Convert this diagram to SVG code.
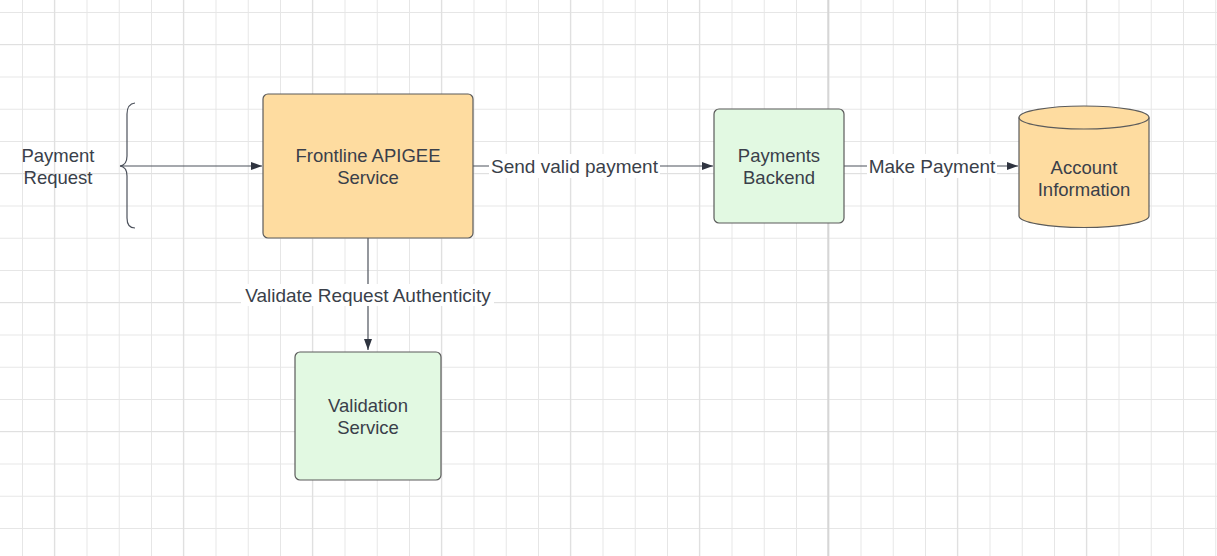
<svg xmlns="http://www.w3.org/2000/svg" width="1217" height="556" viewBox="0 0 1217 556">
<defs>
<style>
.grid{stroke:#e6e6e6;stroke-width:1}
.gridM{stroke:#e0e0e0;stroke-width:1.2}
.node{stroke:#5b5b5b;stroke-width:1.2}
.orange{fill:#fedca0}
.green{fill:#e2f9e2}
.t{font-family:"Liberation Sans",Arial,sans-serif;font-size:18.5px;fill:#3a3f4a;text-anchor:middle}
.lbl{font-family:"Liberation Sans",Arial,sans-serif;font-size:19px;fill:#3a3f4a;text-anchor:middle}
.edge{stroke:#4d525c;stroke-width:1.2;fill:none}
</style>
<marker id="arr" markerWidth="12" markerHeight="10" refX="11" refY="5" orient="auto" markerUnits="userSpaceOnUse">
<path d="M0,1 L11,5 L0,9 Z" fill="#2f3440"/>
</marker>
<pattern id="gp" x="22" y="12" width="32.25" height="32.25" patternUnits="userSpaceOnUse">
<path d="M0.5,0 V32.25 M0,0.5 H32.25" class="grid"/>
</pattern>
</defs>
<rect width="1217" height="556" fill="#ffffff"/>
<rect width="1217" height="556" fill="url(#gp)"/>
<g id="major-grid" class="gridM">
<line x1="54.5" y1="0" x2="54.5" y2="556"/>
<line x1="183.5" y1="0" x2="183.5" y2="556"/>
<line x1="312.5" y1="0" x2="312.5" y2="556"/>
<line x1="441.5" y1="0" x2="441.5" y2="556"/>
<line x1="570.5" y1="0" x2="570.5" y2="556"/>
<line x1="699.5" y1="0" x2="699.5" y2="556"/>
<line x1="957.5" y1="0" x2="957.5" y2="556"/>
<line x1="1086.5" y1="0" x2="1086.5" y2="556"/>
<line x1="0" y1="44.5" x2="1217" y2="44.5"/>
<line x1="0" y1="173.5" x2="1217" y2="173.5"/>
<line x1="0" y1="302.5" x2="1217" y2="302.5"/>
<line x1="0" y1="431.5" x2="1217" y2="431.5"/>
</g>
<line x1="828.25" y1="0" x2="828.25" y2="556" stroke="#d6d6d6" stroke-width="2"/>

<g id="connectors">
<g id="edge-request">
<path class="edge" d="M135,103 Q127,104 127,114 L127,156 Q127,165 120,166 Q127,167 127,176 L127,218 Q127,228 135,228"/>
<line class="edge" x1="120" y1="166" x2="262" y2="166" marker-end="url(#arr)"/>
</g>
<g id="edge-send">
<line class="edge" x1="473" y1="166" x2="713" y2="166" marker-end="url(#arr)"/>
<rect x="489" y="154" width="171" height="24" fill="#ffffff"/>
<text class="lbl" x="574.5" y="172.5">Send valid payment</text>
</g>
<g id="edge-make">
<line class="edge" x1="844" y1="166" x2="1018" y2="166" marker-end="url(#arr)"/>
<rect x="867" y="154" width="130" height="24" fill="#ffffff"/>
<text class="lbl" x="932" y="172.5">Make Payment</text>
</g>
<g id="edge-validate">
<line class="edge" x1="368" y1="238" x2="368" y2="350" marker-end="url(#arr)"/>
<rect x="241" y="284" width="253" height="22" fill="#ffffff"/>
<text class="lbl" x="368" y="301.5">Validate Request Authenticity</text>
</g>
</g>

<g id="payment-request">
<text class="t" x="58" y="162">Payment</text>
<text class="t" x="58" y="184">Request</text>
</g>

<g id="frontline">
<rect class="node orange" x="263" y="94" width="210" height="144" rx="5"/>
<text class="t" x="368" y="162">Frontline APIGEE</text>
<text class="t" x="368" y="184">Service</text>
</g>

<g id="payments-backend">
<rect class="node green" x="714" y="109" width="130" height="114" rx="5"/>
<text class="t" x="779" y="162">Payments</text>
<text class="t" x="779" y="184">Backend</text>
</g>

<g id="account-information">
<path class="node orange" d="M1019,117.5 L1019,216 A65,11.5 0 0 0 1149,216 L1149,117.5 A65,11.5 0 0 0 1019,117.5 Z"/>
<path class="node" fill="none" d="M1019,117.5 A65,11.5 0 0 0 1149,117.5"/>
<text class="t" x="1084" y="173.5">Account</text>
<text class="t" x="1084" y="195.5">Information</text>
</g>

<g id="validation">
<rect class="node green" x="295" y="352" width="146" height="128" rx="5"/>
<text class="t" x="368" y="412">Validation</text>
<text class="t" x="368" y="434">Service</text>
</g>
</svg>
